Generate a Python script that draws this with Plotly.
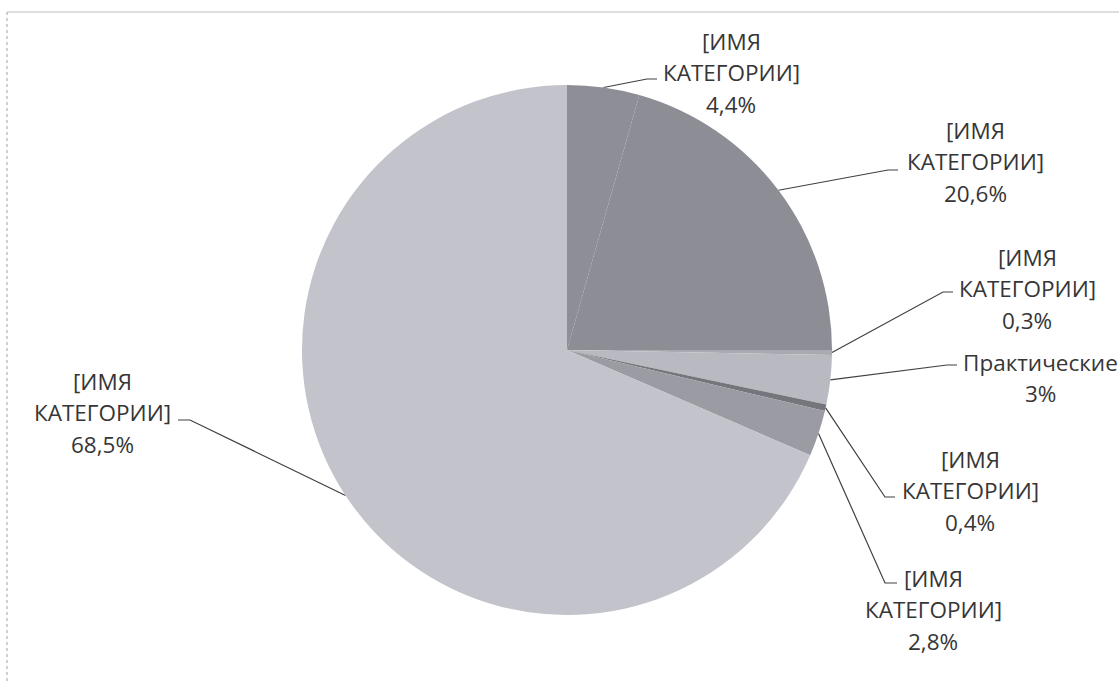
import math
import plotly.graph_objects as go

# ---- data ----
categories = ["[ИМЯ КАТЕГОРИИ]", "[ИМЯ КАТЕГОРИИ]", "[ИМЯ КАТЕГОРИИ]", "Практические",
              "[ИМЯ КАТЕГОРИИ]", "[ИМЯ КАТЕГОРИИ]", "[ИМЯ КАТЕГОРИИ]"]
values = [4.4, 20.6, 0.3, 3.0, 0.4, 2.8, 68.5]
colors = ["#8d8e96", "#8c8d95", "#a9aab1", "#b8b9c1", "#75767d", "#9a9ba3", "#c2c3cb"]

# ---- layout (pixels) ----
W, H = 1119, 684
CX, CY, R = 567, 350, 265
FONT = "Open Sans"
FSIZE = 22.5
LINE_SP = 31.5
TXT = "#363636"
# text centre x, first line y, elbow point, end point of leader
label_pos = [
    (731, 41, (647, 79), (657, 79)),
    (975, 130, (888, 170), (898, 170)),
    (1027, 257, (943, 292), (953, 292)),
    (1040, 362, (947, 365), (957, 365)),
    (970, 459, (885, 497), (895, 497)),
    (933, 578, (885, 583), (897, 583)),
    (102, 381, (190, 420), (178, 420)),
]

def pct_text(v):
    return f"{v:.0f}%" if float(v).is_integer() else f"{v:.1f}".replace(".", ",") + "%"

fig = go.Figure()
fig.add_trace(go.Pie(
    labels=[f"{c} {i}" for i, c in enumerate(categories)],
    values=values, sort=False, direction="clockwise", rotation=0,
    marker=dict(colors=colors, line=dict(width=0)),
    textinfo="none", hoverinfo="label+percent", showlegend=False,
    domain=dict(x=[(CX - R) / W, (CX + R) / W], y=[(H - CY - R) / H, (H - CY + R) / H]),
))

total = sum(values)
cum = 0.0
annotations = []
for v, name, (tx, ty, elbow, end) in zip(values, categories, label_pos):
    mid = (cum + v / 2) / total * 2 * math.pi
    cum += v
    ax_ = CX + R * math.sin(mid)
    ay_ = CY - R * math.cos(mid)
    fig.add_trace(go.Scatter(
        x=[ax_, elbow[0], end[0]], y=[ay_, elbow[1], end[1]],
        mode="lines", line=dict(color="#404040", width=1.2),
        hoverinfo="skip", showlegend=False,
    ))
    lines = name.split(" ") + [pct_text(v)]
    for i, ln in enumerate(lines):
        annotations.append(dict(
            x=tx, y=ty + i * LINE_SP, xref="x", yref="y", text=ln, showarrow=False,
            xanchor="center", yanchor="middle",
            font=dict(family=FONT, size=FSIZE, color=TXT),
        ))

fig.update_layout(
    width=W, height=H, margin=dict(l=0, r=0, t=0, b=0),
    paper_bgcolor="white", plot_bgcolor="rgba(0,0,0,0)",
    xaxis=dict(range=[0, W], visible=False, fixedrange=True),
    yaxis=dict(range=[H, 0], visible=False, fixedrange=True),
    annotations=annotations,
    shapes=[
        dict(type="line", xref="x", yref="y", x0=7, y0=12, x1=W, y1=12,
             line=dict(color="#b8bcc0", width=1)),
        dict(type="line", xref="x", yref="y", x0=7, y0=12, x1=7, y1=H,
             line=dict(color="#a0a0a0", width=1, dash="dot")),
    ],
)
fig.write_html("out.html", config={"displayModeBar": False},
               post_script="document.body.style.margin='0';document.body.style.overflow='hidden';")
